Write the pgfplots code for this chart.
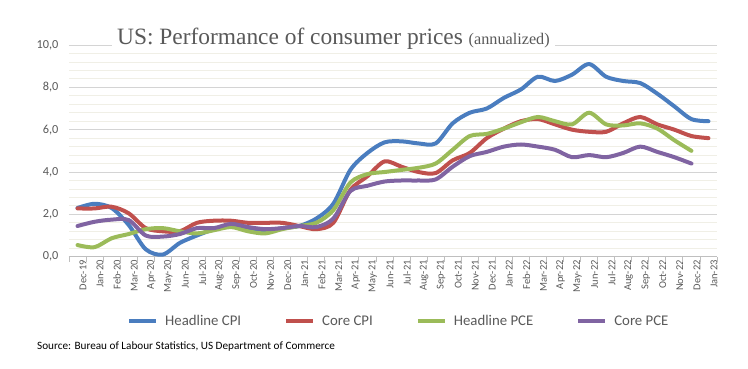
\documentclass[border=0pt]{standalone}
\usepackage{fontspec}
\setmainfont{Carlito}
\newfontfamily\titlefont{Liberation Serif}
\usepackage{pgfplots}
\usepackage{pgfplotstable}
\pgfplotsset{compat=1.18}
\definecolor{cblue}{HTML}{4A7DBF}
\definecolor{cred}{HTML}{C0504D}
\definecolor{cgreen}{HTML}{9BBB59}
\definecolor{cpurple}{HTML}{8064A2}
\definecolor{gridmaj}{HTML}{D4D4D4}
\definecolor{gridmin}{HTML}{F0EFE6}
\definecolor{tickgray}{HTML}{595959}
\definecolor{axgray}{HTML}{BFBFBF}

\pgfplotstableread{
i cpi core pce cpce
0 2.3 2.28 0.55 1.45
1 2.5 2.28 0.45 1.65
2 2.3 2.36 0.87 1.75
3 1.5 2.05 1.07 1.73
4 0.35 1.35 1.3 1.0
5 0.1 1.2 1.35 0.95
6 0.65 1.2 1.2 1.07
7 1.0 1.6 1.1 1.35
8 1.3 1.7 1.25 1.35
9 1.5 1.7 1.4 1.55
10 1.25 1.6 1.2 1.4
11 1.2 1.6 1.1 1.3
12 1.35 1.6 1.3 1.35
13 1.45 1.45 1.45 1.45
14 1.8 1.3 1.6 1.4
15 2.5 1.6 2.2 1.8
16 4.1 3.15 3.5 3.1
17 4.9 3.8 3.9 3.35
18 5.4 4.5 4.0 3.55
19 5.45 4.25 4.1 3.6
20 5.35 4.0 4.2 3.6
21 5.35 3.95 4.4 3.65
22 6.3 4.55 5.05 4.25
23 6.8 4.9 5.7 4.75
24 7.0 5.6 5.8 4.95
25 7.5 6.05 6.05 5.2
26 7.9 6.4 6.35 5.3
27 8.5 6.5 6.6 5.2
28 8.3 6.25 6.4 5.05
29 8.6 6.0 6.25 4.7
30 9.1 5.9 6.8 4.8
31 8.5 5.9 6.25 4.7
32 8.3 6.3 6.2 4.9
33 8.2 6.6 6.3 5.2
34 7.7 6.25 6.05 4.95
35 7.1 6.0 5.5 4.7
36 6.5 5.7 5.0 4.4
37 6.4 5.6 nan nan
}\data

\begin{document}
\begin{tikzpicture}
\useasboundingbox (-69pt,-112.3pt) rectangle (679pt,256.7pt);
\begin{axis}[
  scale only axis, width=648pt, height=211.7pt,
  at={(0pt,0pt)}, anchor=south west,
  xmin=-0.5, xmax=37.5, ymin=0, ymax=10,
  axis x line*=bottom, axis y line*=left,
  y axis line style={draw=none},
  x axis line style={color=axgray, line width=0.8pt},
  ytick={0,2,...,10}, minor y tick num=4,
  ymajorgrids, yminorgrids,
  major grid style={color=gridmaj, line width=0.8pt},
  minor grid style={color=gridmin, line width=0.8pt},
  major tick length=0pt, minor tick length=0pt,
  /pgf/number format/fixed, /pgf/number format/fixed zerofill,
  /pgf/number format/precision=1, /pgf/number format/use comma,
  /pgf/number format/assume math mode=true,
  y tick label style={font=\fontsize{12.3}{14}\selectfont, color=tickgray, xshift=-7pt},
  xtick={0,...,37},
  xticklabels={Dec-19,Jan-20,Feb-20,Mar-20,Apr-20,May-20,Jun-20,Jul-20,Aug-20,Sep-20,Oct-20,Nov-20,Dec-20,Jan-21,Feb-21,Mar-21,Apr-21,May-21,Jun-21,Jul-21,Aug-21,Sep-21,Oct-21,Nov-21,Dec-21,Jan-22,Feb-22,Mar-22,Apr-22,May-22,Jun-22,Jul-22,Aug-22,Sep-22,Oct-22,Nov-22,Dec-22,Jan-23},
  x tick label style={rotate=90, anchor=east, font=\fontsize{10.5}{12}\selectfont, color=tickgray, yshift=-5.5pt},
  extra x ticks={-0.5,0.5,...,37.5}, extra x tick labels={},
  extra x tick style={grid=none, major tick length=5pt, tick align=outside, tick style={color=axgray, line width=0.8pt}},
  legend columns=4,
  legend style={at={(0.509,-0.304)}, anchor=center, draw=none, fill=none,
    font=\fontsize{14.8}{17}\selectfont, text=tickgray,
    /tikz/every odd column/.append style={column sep=5pt},
    /tikz/every even column/.append style={column sep=41pt}},
  legend image code/.code={\draw[line width=4pt, line cap=butt] (0pt,0pt) -- (27pt,0pt);},
  every axis plot/.append style={line width=4pt, line cap=round, smooth, no markers},
  clip=false,
]
\addplot[cblue] table[x=i, y=cpi] {\data};
\addlegendentry{Headline CPI}
\addplot[cred] table[x=i, y=core] {\data};
\addlegendentry{Core CPI}
\addplot[cgreen] table[x=i, y=pce] {\data};
\addlegendentry{Headline PCE}
\addplot[cpurple] table[x=i, y=cpce] {\data};
\addlegendentry{Core PCE}
\end{axis}
\node[anchor=base west, fill=white, inner xsep=5pt, inner ysep=2pt, text=tickgray] at (43pt,211.7pt)
  {\titlefont\fontsize{23.4}{26}\selectfont US: Performance of consumer prices \fontsize{16.2}{18}\selectfont(annualized)};
\node[anchor=base west, inner sep=0pt, font=\fontsize{11.2}{13}\selectfont] at (-32pt,-93.3pt)
  {Source: Bureau of Labour Statistics, US Department of Commerce};
\end{tikzpicture}
\end{document}
